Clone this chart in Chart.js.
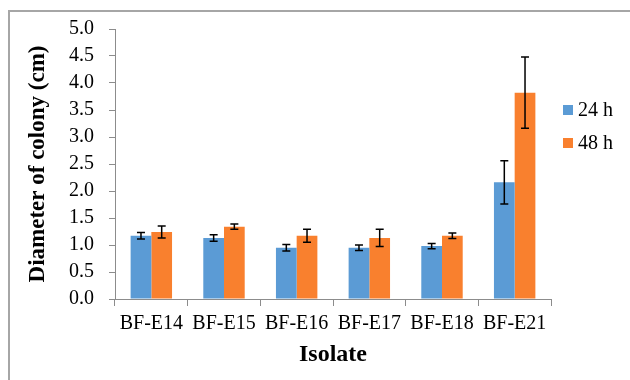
<!DOCTYPE html>
<html>
<head>
<meta charset="utf-8">
<script src="https://cdn.jsdelivr.net/npm/chart.js@4"></script>
<style>
  html, body { margin: 0; padding: 0; background: #fff; }
  #wrap { width: 630px; height: 380px; position: relative; }
</style>
</head>
<body>
<div id="wrap"><canvas id="colony-chart"></canvas></div>
<script>
// data
const isolates = ["BF-E14", "BF-E15", "BF-E16", "BF-E17", "BF-E18", "BF-E21"];
const mean_24h = [1.17, 1.13, 0.95, 0.95, 0.98, 2.16];
const err_24h = [0.06, 0.06, 0.06, 0.05, 0.05, 0.40];
const mean_48h = [1.24, 1.34, 1.17, 1.13, 1.17, 3.82];
const err_48h = [0.11, 0.05, 0.12, 0.16, 0.05, 0.66];
const y_ticks = [0, 0.5, 1, 1.5, 2, 2.5, 3, 3.5, 4, 4.5, 5];

const serif = "'Liberation Serif', 'Times New Roman', serif";
const axis_grey = "#8c8c8c";

// error bars drawn from the bar elements and the y scale
const error_bars = {
  id: "error_bars",
  afterDatasetsDraw(chart) {
    const ctx = chart.ctx;
    const y = chart.scales.y;
    ctx.save();
    ctx.strokeStyle = "#000";
    ctx.lineWidth = 1.5;
    chart.data.datasets.forEach((ds, i) => {
      const meta = chart.getDatasetMeta(i);
      meta.data.forEach((bar, j) => {
        const hi = y.getPixelForValue(ds.data[j] + ds.errors[j]);
        const lo = y.getPixelForValue(ds.data[j] - ds.errors[j]);
        ctx.beginPath();
        ctx.moveTo(bar.x, hi); ctx.lineTo(bar.x, lo);
        ctx.moveTo(bar.x - 4, hi); ctx.lineTo(bar.x + 4, hi);
        ctx.moveTo(bar.x - 4, lo); ctx.lineTo(bar.x + 4, lo);
        ctx.stroke();
      });
    });
    ctx.restore();
  }
};

// frame and legend
const frame_legend = {
  id: "frame_legend",
  beforeDraw(chart) {
    const ctx = chart.ctx;
    ctx.save();
    ctx.strokeStyle = "#a6a6a6";
    ctx.lineWidth = 2;
    ctx.beginPath();
    ctx.moveTo(9, 380); ctx.lineTo(9, 11); ctx.lineTo(630, 11);
    ctx.stroke();
    ctx.restore();
  },
  afterDraw(chart) {
    const ctx = chart.ctx;
    ctx.save();
    ctx.font = "20px " + serif;
    ctx.textBaseline = "middle";
    chart.data.datasets.forEach((ds, i) => {
      const cy = 110 + i * 33;
      ctx.fillStyle = ds.backgroundColor;
      ctx.fillRect(563, cy - 5, 10, 10);
      ctx.fillStyle = "#000";
      ctx.fillText(ds.label, 578, cy + 1);
    });
    ctx.restore();
  }
};

new Chart(document.getElementById("colony-chart"), {
  type: "bar",
  data: {
    labels: isolates,
    datasets: [
      { label: "24 h", data: mean_24h, errors: err_24h, backgroundColor: "#5b9bd5" },
      { label: "48 h", data: mean_48h, errors: err_48h, backgroundColor: "#f9802e" }
    ]
  },
  options: {
    responsive: true,
    maintainAspectRatio: false,
    animation: false,
    layout: { padding: { top: 29, right: 79, bottom: 0, left: 0 } },
    datasets: { bar: { categoryPercentage: 0.57, barPercentage: 1.0 } },
    plugins: { legend: { display: false }, tooltip: { enabled: false } },
    scales: {
      x: {
        afterFit: s => { s.height = 81; },
        grid: { drawOnChartArea: false, tickLength: 7, color: axis_grey, offset: true },
        border: { color: axis_grey },
        ticks: { color: "#000", font: { family: serif, size: 20 }, padding: 6, maxRotation: 0 },
        title: {
          display: true, text: "Isolate", color: "#000",
          font: { family: serif, size: 24, weight: "bold" },
          padding: { top: 0, bottom: 11 }
        }
      },
      y: {
        min: 0,
        max: 5,
        afterFit: s => { s.width = 115; },
        afterBuildTicks: s => { s.ticks = y_ticks.map(v => ({ value: v })); },
        grid: { drawOnChartArea: false, tickLength: 6, color: axis_grey },
        border: { color: axis_grey },
        ticks: { color: "#000", font: { family: serif, size: 20 }, padding: 15, callback: v => v.toFixed(1) },
        title: {
          display: true, text: "Diameter of colony (cm)", color: "#000",
          font: { family: serif, size: 23, weight: "bold" },
          padding: { top: 24, bottom: 0 }
        }
      }
    }
  },
  plugins: [error_bars, frame_legend]
});
</script>
</body>
</html>
